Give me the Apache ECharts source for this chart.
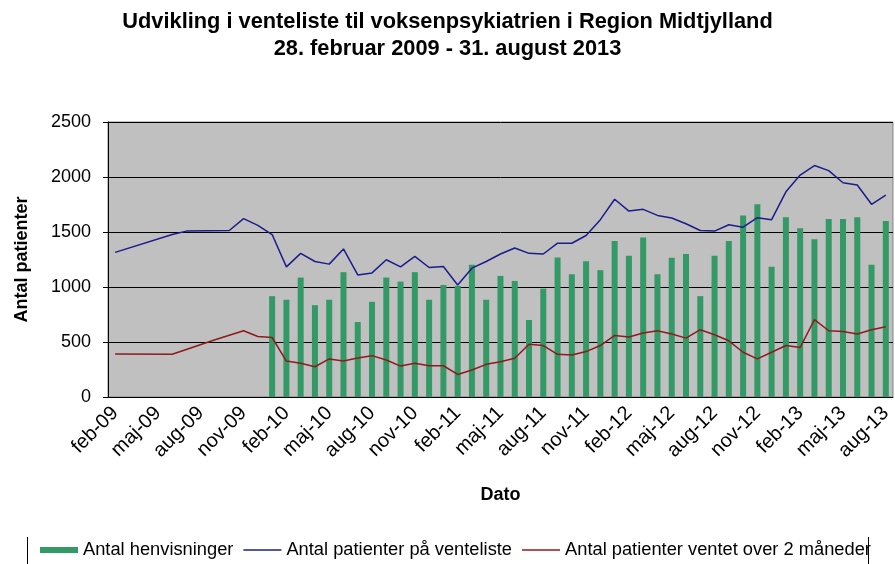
<!DOCTYPE html>
<html>
<head>
<meta charset="utf-8">
<script src="https://cdn.jsdelivr.net/npm/echarts@6/dist/echarts.min.js"></script>
<style>
html, body { margin: 0; padding: 0; background: #fff; }
#chart { width: 895px; height: 564px; }
</style>
</head>
<body>
<div id="chart"></div>
<script>
// maaneder feb-09 .. aug-13
var months = [
	'feb-09', 'mar-09', 'apr-09', 'maj-09', 'jun-09', 'jul-09', 'aug-09', 'sep-09', 'okt-09', 'nov-09', 'dec-09',
	'jan-10', 'feb-10', 'mar-10', 'apr-10', 'maj-10', 'jun-10', 'jul-10', 'aug-10', 'sep-10', 'okt-10', 'nov-10', 'dec-10',
	'jan-11', 'feb-11', 'mar-11', 'apr-11', 'maj-11', 'jun-11', 'jul-11', 'aug-11', 'sep-11', 'okt-11', 'nov-11', 'dec-11',
	'jan-12', 'feb-12', 'mar-12', 'apr-12', 'maj-12', 'jun-12', 'jul-12', 'aug-12', 'sep-12', 'okt-12', 'nov-12', 'dec-12',
	'jan-13', 'feb-13', 'mar-13', 'apr-13', 'maj-13', 'jun-13', 'jul-13', 'aug-13'
];

var henvisninger = [
	null, null, null, null, null, null, null, null, null, null, null,
	917, 884, 1086, 835, 884, 1135, 682, 865, 1086, 1049, 1135, 884,
	1018, 1010, 1202, 884, 1101, 1055, 700, 985, 1269, 1116, 1235, 1153,
	1419, 1284, 1450, 1116, 1266, 1300, 917, 1284, 1419, 1651, 1752, 1183,
	1633, 1535, 1434, 1618, 1618, 1633, 1202, 1600
];

var venteliste = [
	1315, null, null, null, 1477, 1508, null, null, 1514, 1621, 1560,
	1477, 1183, 1306, 1232, 1208, 1346, 1110, 1128, 1248, 1183, 1278, 1177,
	1187, 1018, 1171, 1232, 1300, 1355, 1306, 1300, 1398, 1398, 1468, 1612,
	1798, 1690, 1706, 1651, 1627, 1575, 1514, 1508, 1566, 1544, 1630, 1612,
	1865, 2018, 2104, 2058, 1948, 1927, 1752, 1835
];

var over2mdr = [
	390, null, null, null, 388, null, null, 520, null, 602, 550,
	541, 327, 306, 275, 346, 327, 355, 376, 336, 281, 306, 284,
	284, 205, 245, 297, 321, 352, 480, 468, 388, 382, 413, 468,
	560, 545, 581, 602, 572, 535, 612, 566, 511, 407, 346, 407,
	468, 450, 703, 602, 596, 572, 612, 639
];

var font = 'Liberation Sans, Arial, sans-serif';
var lineIcon = 'path://M0,0H38V1.5H0Z';
var chart = echarts.init(document.getElementById('chart'));

chart.setOption({
	animation: false,
	backgroundColor: '#ffffff',
	title: {
		text: 'Udvikling i venteliste til voksenpsykiatrien i Region Midtjylland\n28. februar 2009 - 31. august 2013',
		left: 'center',
		top: 3,
		textStyle: {
			fontFamily: font,
			fontSize: 21.8,
			fontWeight: 'bold',
			color: '#000',
			lineHeight: 27
		}
	},
	legend: {
		top: 536,
		left: 35,
		itemWidth: 38,
		itemHeight: 6,
		itemGap: 10,
		textStyle: { fontFamily: font, fontSize: 18.3, color: '#000' },
		data: [
			{ name: 'Antal henvisninger', icon: 'rect' },
			{ name: 'Antal patienter på venteliste', icon: lineIcon },
			{ name: 'Antal patienter ventet over 2 måneder', icon: lineIcon }
		]
	},
	grid: {
		left: 108,
		right: 2,
		top: 122,
		bottom: 167,
		show: true,
		backgroundColor: '#c0c0c0',
		borderColor: '#808080',
		borderWidth: 1
	},
	xAxis: {
		type: 'category',
		data: months,
		boundaryGap: true,
		name: 'Dato',
		nameLocation: 'middle',
		nameGap: 89,
		nameTextStyle: { fontFamily: font, fontSize: 18, fontWeight: 'bold', color: '#000' },
		axisLine: { lineStyle: { color: '#000', width: 1 } },
		axisTick: { interval: 2, length: 5, lineStyle: { color: '#000' } },
		axisLabel: {
			interval: 2,
			rotate: 45,
			margin: 13,
			fontFamily: font,
			fontSize: 20,
			color: '#000'
		},
		splitLine: { show: false }
	},
	yAxis: {
		type: 'value',
		min: 0,
		max: 2500,
		interval: 500,
		name: 'Antal patienter',
		nameLocation: 'middle',
		nameGap: 77,
		nameTextStyle: { fontFamily: font, fontSize: 18, fontWeight: 'bold', color: '#000' },
		axisLine: { show: true, lineStyle: { color: '#000', width: 1 } },
		axisTick: { show: true, length: 5, lineStyle: { color: '#000' } },
		axisLabel: {
			margin: 17,
			fontFamily: font,
			fontSize: 18,
			color: '#000',
			formatter: function(v) { return String(v); }
		},
		splitLine: { lineStyle: { color: '#000', width: 1 } }
	},
	series: [
		{
			name: 'Antal henvisninger',
			type: 'bar',
			data: henvisninger,
			barWidth: 6,
			itemStyle: { color: '#339966' }
		},
		{
			name: 'Antal patienter på venteliste',
			type: 'line',
			data: venteliste,
			connectNulls: true,
			symbol: 'none',
			lineStyle: { color: '#1c1c8c', width: 1.5 },
			itemStyle: { color: '#1c1c8c' }
		},
		{
			name: 'Antal patienter ventet over 2 måneder',
			type: 'line',
			data: over2mdr,
			connectNulls: true,
			symbol: 'none',
			lineStyle: { color: '#8c1c1c', width: 1.5 },
			itemStyle: { color: '#8c1c1c' }
		}
	],
	graphic: [
		{ type: 'line', shape: { x1: 27.5, y1: 537, x2: 27.5, y2: 564 }, style: { stroke: '#000', lineWidth: 1 } },
		{ type: 'line', shape: { x1: 868.5, y1: 537, x2: 868.5, y2: 564 }, style: { stroke: '#000', lineWidth: 1 } }
	]
});
</script>
</body>
</html>
